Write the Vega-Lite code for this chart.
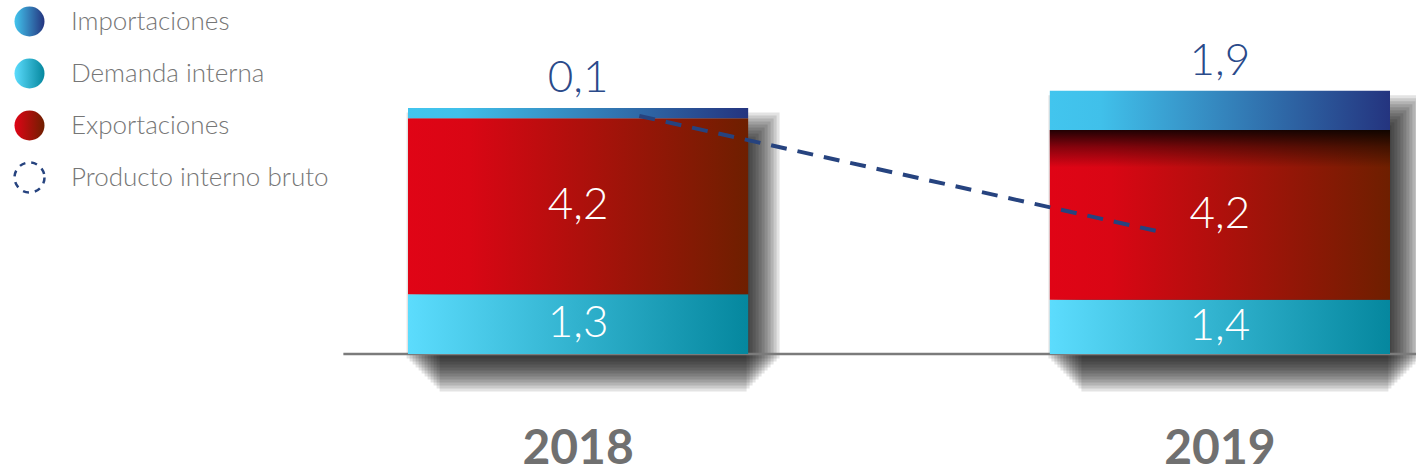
{
  "$schema": "https://vega.github.io/schema/vega-lite/v6.json",
  "width": 1416,
  "height": 475,
  "autosize": {"type": "none"},
  "padding": 0,
  "background": "white",
  "config": {"view": {"stroke": null}, "axis": {"disable": true}, "font": "Lato"},
  "datasets": {
    "barras": [
      {"year": "2018", "serie": "Demanda interna", "order": 1, "size": 1.36, "label": "1,3"},
      {"year": "2018", "serie": "Exportaciones", "order": 2, "size": 4.0, "label": "4,2"},
      {"year": "2018", "serie": "Importaciones", "order": 3, "size": 0.23, "label": "0,1"},
      {"year": "2019", "serie": "Demanda interna", "order": 1, "size": 1.23, "label": "1,4"},
      {"year": "2019", "serie": "Exportaciones", "order": 2, "size": 3.86, "label": "4,2"},
      {"year": "2019", "serie": "Importaciones", "order": 3, "size": 0.89, "label": "1,9"}
    ],
    "pib": [{"serie": "Producto interno bruto", "desde": 5.41, "hasta": 2.75}],
    "anios": [{"year": "2018"}, {"year": "2019"}],
    "leyenda": [
      {"serie": "Importaciones"},
      {"serie": "Demanda interna"},
      {"serie": "Exportaciones"},
      {"serie": "Producto interno bruto"}
    ],
    "base": [{"v": 0}]
  },
  "data": {"name": "barras"},
  "layer": [
    {
      "transform": [{"aggregate": [{"op": "sum", "field": "size", "as": "total"}], "groupby": ["year"]}],
      "mark": {"type": "bar", "fill": "#000", "opacity": 0.11, "width": 307, "xOffset": 15, "yOffset": 37.5, "y2Offset": 4.5},
      "encoding": {
        "x": {"field": "year", "type": "nominal", "scale": {"domain": ["2018", "2019"], "range": [408, 1390], "paddingInner": 0.47, "paddingOuter": 0}, "axis": null},
        "y": {"field": "total", "type": "quantitative", "scale": {"domain": [-2.75, 8.045], "nice": false, "zero": false}, "axis": null}
      }
    },
    {
      "transform": [{"aggregate": [{"op": "sum", "field": "size", "as": "total"}], "groupby": ["year"]}],
      "mark": {"type": "bar", "fill": "#000", "opacity": 0.11, "width": 313, "xOffset": 15, "yOffset": 34.5, "y2Offset": 7.5},
      "encoding": {"x": {"field": "year", "type": "nominal", "axis": null}, "y": {"field": "total", "type": "quantitative", "axis": null}}
    },
    {
      "transform": [{"aggregate": [{"op": "sum", "field": "size", "as": "total"}], "groupby": ["year"]}],
      "mark": {"type": "bar", "fill": "#000", "opacity": 0.11, "width": 319, "xOffset": 15, "yOffset": 31.5, "y2Offset": 10.5},
      "encoding": {"x": {"field": "year", "type": "nominal", "axis": null}, "y": {"field": "total", "type": "quantitative", "axis": null}}
    },
    {
      "transform": [{"aggregate": [{"op": "sum", "field": "size", "as": "total"}], "groupby": ["year"]}],
      "mark": {"type": "bar", "fill": "#000", "opacity": 0.11, "width": 325, "xOffset": 15, "yOffset": 28.5, "y2Offset": 13.5},
      "encoding": {"x": {"field": "year", "type": "nominal", "axis": null}, "y": {"field": "total", "type": "quantitative", "axis": null}}
    },
    {
      "transform": [{"aggregate": [{"op": "sum", "field": "size", "as": "total"}], "groupby": ["year"]}],
      "mark": {"type": "bar", "fill": "#000", "opacity": 0.11, "width": 331, "xOffset": 15, "yOffset": 25.5, "y2Offset": 16.5},
      "encoding": {"x": {"field": "year", "type": "nominal", "axis": null}, "y": {"field": "total", "type": "quantitative", "axis": null}}
    },
    {
      "transform": [{"aggregate": [{"op": "sum", "field": "size", "as": "total"}], "groupby": ["year"]}],
      "mark": {"type": "bar", "fill": "#000", "opacity": 0.11, "width": 337, "xOffset": 15, "yOffset": 22.5, "y2Offset": 19.5},
      "encoding": {"x": {"field": "year", "type": "nominal", "axis": null}, "y": {"field": "total", "type": "quantitative", "axis": null}}
    },
    {
      "transform": [{"aggregate": [{"op": "sum", "field": "size", "as": "total"}], "groupby": ["year"]}],
      "mark": {"type": "bar", "fill": "#000", "opacity": 0.11, "width": 343, "xOffset": 15, "yOffset": 19.5, "y2Offset": 22.5},
      "encoding": {"x": {"field": "year", "type": "nominal", "axis": null}, "y": {"field": "total", "type": "quantitative", "axis": null}}
    },
    {
      "transform": [{"aggregate": [{"op": "sum", "field": "size", "as": "total"}], "groupby": ["year"]}],
      "mark": {"type": "bar", "fill": "#000", "opacity": 0.11, "width": 349, "xOffset": 15, "yOffset": 16.5, "y2Offset": 25.5},
      "encoding": {"x": {"field": "year", "type": "nominal", "axis": null}, "y": {"field": "total", "type": "quantitative", "axis": null}}
    },
    {
      "transform": [{"aggregate": [{"op": "sum", "field": "size", "as": "total"}], "groupby": ["year"]}],
      "mark": {"type": "bar", "fill": "#000", "opacity": 0.11, "width": 355, "xOffset": 15, "yOffset": 13.5, "y2Offset": 28.5},
      "encoding": {"x": {"field": "year", "type": "nominal", "axis": null}, "y": {"field": "total", "type": "quantitative", "axis": null}}
    },
    {
      "transform": [{"aggregate": [{"op": "sum", "field": "size", "as": "total"}], "groupby": ["year"]}],
      "mark": {"type": "bar", "fill": "#000", "opacity": 0.11, "width": 361, "xOffset": 15, "yOffset": 10.5, "y2Offset": 31.5},
      "encoding": {"x": {"field": "year", "type": "nominal", "axis": null}, "y": {"field": "total", "type": "quantitative", "axis": null}}
    },
    {
      "transform": [{"aggregate": [{"op": "sum", "field": "size", "as": "total"}], "groupby": ["year"]}],
      "mark": {"type": "bar", "fill": "#000", "opacity": 0.11, "width": 367, "xOffset": 15, "yOffset": 7.5, "y2Offset": 34.5},
      "encoding": {"x": {"field": "year", "type": "nominal", "axis": null}, "y": {"field": "total", "type": "quantitative", "axis": null}}
    },
    {
      "transform": [{"aggregate": [{"op": "sum", "field": "size", "as": "total"}], "groupby": ["year"]}],
      "mark": {"type": "bar", "fill": "#000", "opacity": 0.11, "width": 373, "xOffset": 15, "yOffset": 4.5, "y2Offset": 37.5},
      "encoding": {"x": {"field": "year", "type": "nominal", "axis": null}, "y": {"field": "total", "type": "quantitative", "axis": null}}
    },
    {
      "data": {"name": "base"},
      "mark": {"type": "rule", "stroke": "#7b7b7b", "strokeWidth": 2.5},
      "encoding": {
        "x": {"datum": "2018", "type": "nominal", "bandPosition": -0.19},
        "x2": {"datum": "2019", "bandPosition": 1.08},
        "y": {"field": "v", "type": "quantitative"}
      }
    },
    {
      "transform": [
        {"stack": "size", "groupby": ["year"], "sort": [{"field": "order"}], "as": ["y0", "y1"]},
        {"filter": "datum.serie === 'Demanda interna'"}
      ],
      "mark": {"type": "bar", "fill": {"gradient": "linear", "x1": 0, "y1": 0, "x2": 1, "y2": 0, "stops": [{"offset": 0, "color": "#5cdcfd"}, {"offset": 1, "color": "#05879e"}]}},
      "encoding": {
        "x": {"field": "year", "type": "nominal", "axis": null},
        "y": {"field": "y1", "type": "quantitative", "axis": null},
        "y2": {"field": "y0"}
      }
    },
    {
      "transform": [
        {"stack": "size", "groupby": ["year"], "sort": [{"field": "order"}], "as": ["y0", "y1"]},
        {"filter": "datum.serie === 'Exportaciones'"}
      ],
      "mark": {"type": "bar", "fill": {"gradient": "linear", "x1": 0, "y1": 0, "x2": 1, "y2": 0, "stops": [{"offset": 0, "color": "#e00416"}, {"offset": 0.18, "color": "#d90614"}, {"offset": 1, "color": "#6e1f00"}]}},
      "encoding": {
        "x": {"field": "year", "type": "nominal", "axis": null},
        "y": {"field": "y1", "type": "quantitative", "axis": null},
        "y2": {"field": "y0"}
      }
    },
    {
      "transform": [
        {"stack": "size", "groupby": ["year"], "sort": [{"field": "order"}], "as": ["y0", "y1"]},
        {"filter": "datum.serie === 'Exportaciones' && datum.year === '2019'"}
      ],
      "mark": {"type": "bar", "fill": {"gradient": "linear", "x1": 0, "y1": 0, "x2": 0, "y2": 1, "stops": [{"offset": 0, "color": "rgba(0,0,0,0.85)"}, {"offset": 0.1, "color": "rgba(0,0,0,0.4)"}, {"offset": 0.22, "color": "rgba(0,0,0,0)"}]}},
      "encoding": {
        "x": {"field": "year", "type": "nominal", "axis": null},
        "y": {"field": "y1", "type": "quantitative", "axis": null},
        "y2": {"field": "y0"}
      }
    },
    {
      "transform": [
        {"stack": "size", "groupby": ["year"], "sort": [{"field": "order"}], "as": ["y0", "y1"]},
        {"filter": "datum.serie === 'Importaciones'"}
      ],
      "mark": {"type": "bar", "fill": {"gradient": "linear", "x1": 0, "y1": 0, "x2": 1, "y2": 0, "stops": [{"offset": 0, "color": "#42c5ee"}, {"offset": 0.15, "color": "#40c0ea"}, {"offset": 1, "color": "#24347f"}]}},
      "encoding": {
        "x": {"field": "year", "type": "nominal", "axis": null},
        "y": {"field": "y1", "type": "quantitative", "axis": null},
        "y2": {"field": "y0"}
      }
    },
    {
      "data": {"name": "pib"},
      "mark": {"type": "rule", "stroke": "#26437f", "strokeWidth": 4, "strokeDash": [16, 11]},
      "encoding": {
        "x": {"datum": "2018", "type": "nominal", "bandPosition": 0.68},
        "x2": {"datum": "2019", "bandPosition": 0.34},
        "y": {"field": "desde", "type": "quantitative"},
        "y2": {"field": "hasta"}
      }
    },
    {
      "transform": [
        {"stack": "size", "groupby": ["year"], "sort": [{"field": "order"}], "as": ["y0", "y1"]},
        {"calculate": "(datum.y0 + datum.y1) / 2", "as": "ymid"},
        {"filter": "datum.order < 3"}
      ],
      "mark": {"type": "text", "font": "Lato", "fontSize": 44, "fontWeight": 300, "color": "#ffffff", "align": "center", "baseline": "middle"},
      "encoding": {
        "x": {"field": "year", "type": "nominal", "axis": null},
        "y": {"field": "ymid", "type": "quantitative", "axis": null},
        "text": {"field": "label"}
      }
    },
    {
      "transform": [
        {"stack": "size", "groupby": ["year"], "sort": [{"field": "order"}], "as": ["y0", "y1"]},
        {"filter": "datum.order === 3"}
      ],
      "mark": {"type": "text", "font": "Lato", "fontSize": 44, "fontWeight": 300, "color": "#2a4a8a", "align": "center", "baseline": "alphabetic", "dy": -16},
      "encoding": {
        "x": {"field": "year", "type": "nominal", "axis": null},
        "y": {"field": "y1", "type": "quantitative", "axis": null},
        "text": {"field": "label"}
      }
    },
    {
      "data": {"name": "anios"},
      "mark": {"type": "text", "font": "Lato", "fontSize": 48, "fontWeight": "bold", "color": "#707070", "align": "center", "baseline": "middle"},
      "encoding": {
        "x": {"field": "year", "type": "nominal", "axis": null},
        "y": {"datum": -2.19, "type": "quantitative"},
        "text": {"field": "year"}
      }
    },
    {
      "data": {"name": "leyenda"},
      "mark": {"type": "point", "filled": true, "opacity": 0},
      "encoding": {
        "color": {
          "field": "serie",
          "type": "nominal",
          "scale": {
            "domain": ["Importaciones", "Demanda interna", "Exportaciones", "Producto interno bruto"],
            "range": [
              {"expr": "{gradient: 'linear', x1: 0, y1: 0, x2: 1, y2: 0, stops: [{offset: 0, color: '#42c5ee'}, {offset: 1, color: '#24347f'}]}"},
              {"expr": "{gradient: 'linear', x1: 0, y1: 0, x2: 1, y2: 0, stops: [{offset: 0, color: '#5cdcfd'}, {offset: 1, color: '#05879e'}]}"},
              {"expr": "{gradient: 'linear', x1: 0, y1: 0, x2: 1, y2: 0, stops: [{offset: 0, color: '#e00416'}, {offset: 1, color: '#6e1f00'}]}"},
              "transparent"
            ]
          },
          "legend": {
            "orient": "none",
            "legendX": 13,
            "legendY": 5,
            "title": null,
            "padding": 0,
            "symbolType": "circle",
            "symbolSize": 900,
            "symbolOpacity": 1,
            "rowPadding": 11,
            "labelOffset": 25,
            "labelFont": "Lato",
            "labelFontSize": 26,
            "labelFontWeight": 300,
            "labelColor": "#767676",
            "labelLimit": 400,
            "encode": {
              "symbols": {
                "update": {
                  "opacity": {"value": 1},
                  "stroke": {"signal": "datum.value === 'Producto interno bruto' ? '#26437f' : 'transparent'"},
                  "strokeWidth": {"value": 2.5},
                  "strokeDash": {"signal": "datum.value === 'Producto interno bruto' ? [6, 6] : [1, 0]"}
                }
              }
            }
          }
        }
      }
    }
  ]
}
